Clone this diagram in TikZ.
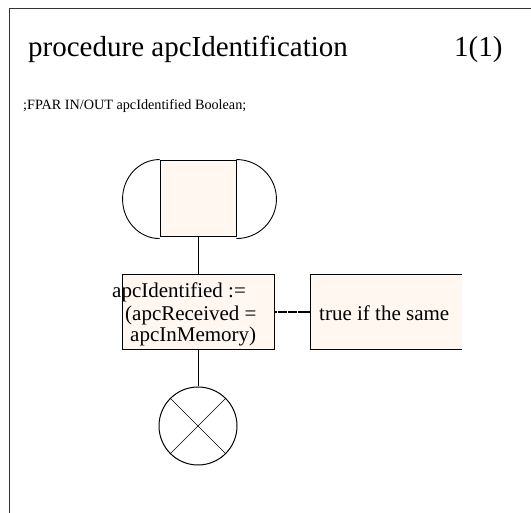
\documentclass[tikz,border=0pt]{standalone}
\usepackage{fontspec}
\setmainfont{Liberation Serif}
\definecolor{boxfill}{HTML}{FFF7F0}
\begin{document}
\begin{tikzpicture}[x=1pt,y=-1pt,
  sym/.style={draw=black,line width=0.9pt,fill=boxfill},
  txt/.style={anchor=base west,inner sep=0pt,font=\fontsize{21}{21}\selectfont},
  line/.style={draw=black,line width=0.9pt}]
\useasboundingbox (0,0) rectangle (531,513);
% frame
\draw[line width=1pt,draw=black!80] (9,513) -- (9,9) -- (531,9);
% title
\node[anchor=base west,inner sep=0pt,font=\fontsize{29}{29}\selectfont] (title) at (28,57) {procedure apcIdentification};
\node[anchor=base west,inner sep=0pt,font=\fontsize{29}{29}\selectfont] (page) at (454,57) {1(1)};
\node[anchor=base west,inner sep=0pt,font=\fontsize{14.2}{14.2}\selectfont] (fpar) at (23,110) {;FPAR IN/OUT apcIdentified Boolean;};
% start symbol
\node[sym,minimum width=76pt,minimum height=76pt,inner sep=0pt] (start) at (198,198) {};
\draw[line] (start.north west) arc[start angle=90,end angle=270,x radius=37,y radius=-39.5];
\draw[line] (start.north east) arc[start angle=90,end angle=-90,x radius=40,y radius=-39.5];
% task
\node[sym,minimum width=152pt,minimum height=75pt,inner sep=0pt] (task) at (198,311.5) {};
\node[txt] (t1) at (112,298) {apcIdentified :=};
\node[txt] (t2) at (125,320.5) {(apcReceived =};
\node[txt] (t3) at (130,342) {apcInMemory)};
% comment
\fill[boxfill] (310,274) rectangle (462,349);
\draw[line] (462,274) -- (310,274) -- (310,349) -- (462,349);
\coordinate (cm) at (310,312);
\node[txt] (ctext) at (319,321) {true if the same};
\draw[line width=1.5pt,dash pattern=on 3pt off 0.3pt] (task.east |- cm) -- (cm);
% stop
\node[draw=black,line width=1pt,circle,minimum size=78pt,inner sep=0pt] (stop) at (198,426) {};
\draw[line width=0.7pt] (stop.north west) -- (stop.south east);
\draw[line width=0.7pt] (stop.north east) -- (stop.south west);
% connectors
\draw[line] (start.south) -- (task.north);
\draw[line] (task.south) -- (stop.north);
\end{tikzpicture}
\end{document}
